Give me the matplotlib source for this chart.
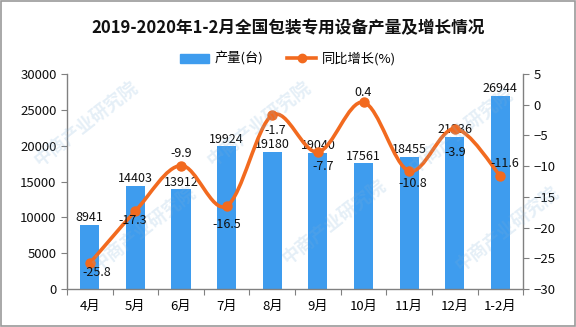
import numpy as np
import matplotlib
matplotlib.use("Agg")
import matplotlib.pyplot as plt
from matplotlib.path import Path
from matplotlib.patches import PathPatch, Rectangle
from matplotlib.lines import Line2D

plt.rcParams['font.family'] = ['Noto Sans CJK SC', 'DejaVu Sans']

categories = ['4月', '5月', '6月', '7月', '8月', '9月', '10月', '11月', '12月', '1-2月']
production = [8941, 14403, 13912, 19924, 19180, 19040, 17561, 18455, 21236, 26944]
growth = [-25.8, -17.3, -9.9, -16.5, -1.7, -7.7, 0.4, -10.8, -3.9, -11.6]
growth_offsets = [(7, -9), (-3, -10), (0, 12), (0, -18), (3, -15),
                  (5, -14), (0, 10), (4, -12), (0, -24), (4, 12)]

bar_color = '#3E9CEE'
line_color = '#F26A1F'
axis_color = '#808080'

fig = plt.figure(figsize=(5.76, 3.27), dpi=100)
fig.patches.append(Rectangle((0.001, 0.002), 0.997, 0.995, transform=fig.transFigure,
                             fill=False, edgecolor='#9a9a9a', linewidth=1.2))

ax = fig.add_axes([0.1163, 0.1162, 0.792, 0.6575])
ax2 = ax.twinx()

x = np.arange(len(categories))
ax.bar(x, production, width=0.42, color=bar_color, zorder=2)
for xi, v in zip(x, production):
    ax.annotate(str(v), (xi, v), xytext=(0, 7), textcoords='offset pixels',
                ha='center', va='center', fontsize=9, color='#111111')

ax.set_xlim(-0.5, len(categories) - 0.5)
ax.set_ylim(0, 30000)
ax.set_yticks(np.arange(0, 30001, 5000))
ax2.set_ylim(-30, 5)
ax2.set_yticks(np.arange(-30, 6, 5))

# smooth line via Catmull-Rom -> cubic Bezier
pts = np.column_stack([x, growth]).astype(float)
verts = [pts[0]]
codes = [Path.MOVETO]
n = len(pts)
for i in range(n - 1):
    p0 = pts[i - 1] if i > 0 else pts[i]
    p1 = pts[i]
    p2 = pts[i + 1]
    p3 = pts[i + 2] if i + 2 < n else pts[i + 1]
    c1 = p1 + (p2 - p0) / 6.0
    c2 = p2 - (p3 - p1) / 6.0
    verts += [c1, c2, p2]
    codes += [Path.CURVE4] * 3
ax2.add_patch(PathPatch(Path(verts, codes), fill=False, edgecolor=line_color,
                        linewidth=2.6, zorder=3, capstyle='round'))
ax2.plot(x, growth, 'o', color=line_color, markersize=6.5, zorder=4)
for xi, v, off in zip(x, growth, growth_offsets):
    ax2.annotate(f'{v}', (xi, v), xytext=off, textcoords='offset pixels',
                 ha='center', va='center', fontsize=9, color='#111111', zorder=5)

for a in (ax, ax2):
    a.spines['top'].set_visible(False)
    for s in ('left', 'right', 'bottom'):
        a.spines[s].set_color(axis_color)
        a.spines[s].set_linewidth(1.0)
    a.tick_params(colors=axis_color, labelcolor='#111111', labelsize=9.5, length=4)
ax2.spines['left'].set_visible(False)
ax2.spines['bottom'].set_visible(False)
ax.spines['right'].set_visible(False)

ax.set_xticks(np.arange(-0.5, len(categories), 1.0))
ax.set_xticklabels([])
ax.set_xticks(x, minor=True)
ax.set_xticklabels(categories, minor=True, fontsize=9.5)
ax.tick_params(axis='x', which='minor', length=0, pad=8)
ax.tick_params(axis='x', which='major', length=4)

# title & legend
fig.text(0.5, 0.915, '2019-2020年1-2月全国包装专用设备产量及增长情况', ha='center', va='center',
         fontsize=12, fontweight='bold', color='#111111')
handles = [Rectangle((0, 0), 1, 1, color=bar_color),
           Line2D([0], [0], color=line_color, lw=2.6, marker='o', markersize=6)]
fig.legend(handles, ['产量(台)', '同比增长(%)'], loc='center', bbox_to_anchor=(0.5, 0.82),
           ncol=2, frameon=False, fontsize=9.5, handlelength=2.2, columnspacing=1.8,
           handletextpad=0.4)

# light watermarks
for (wx, wy) in [(0.15, 0.62), (0.45, 0.62), (0.80, 0.60), (0.25, 0.30), (0.58, 0.32),
                 (0.88, 0.30)]:
    fig.text(wx, wy, '中商产业研究院', rotation=38, fontsize=13, color='#7fb0d8',
             alpha=0.2, ha='center', va='center', fontweight='bold', zorder=10)

fig.savefig('out.png', dpi=100)
